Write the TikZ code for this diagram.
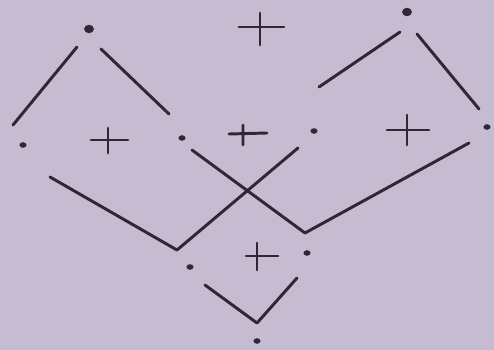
\documentclass[tikz,border=0pt]{standalone}
\usetikzlibrary{shapes.geometric}
\definecolor{paper}{RGB}{197,188,210}
\definecolor{ink}{RGB}{48,38,58}
\begin{document}
\begin{tikzpicture}[x=0.05cm,y=-0.05cm,
  stroke/.style={draw=ink,line width=4.2pt,line cap=round,line join=round},
  plusstroke/.style={draw=ink,line width=4.2pt,line cap=round},
  bigdot/.style={ellipse,fill=ink,inner sep=0pt,minimum width=14pt,minimum height=12pt},
  smalldot/.style={ellipse,fill=ink,inner sep=0pt,minimum width=10pt,minimum height=8pt}]
\fill[paper] (0,0) rectangle (494,350);
\useasboundingbox (0,0) rectangle (494,350);
% dots
\node[bigdot] (tl) at (89,29) {};
\node[bigdot] (tr) at (407,12) {};
\node[smalldot] (l) at (23,145) {};
\node[smalldot] (ml) at (182,138) {};
\node[smalldot] (mr) at (314,131) {};
\node[smalldot] (r) at (487,127) {};
\node[smalldot] (ll) at (190,267) {};
\node[smalldot] (lr) at (307,253) {};
\node[smalldot] (b) at (257,341) {};
% line ends
\coordinate (a1) at (77,47);  \coordinate (a2) at (13,125);
\coordinate (b1) at (101,49); \coordinate (b2) at (169,114);
\coordinate (c1) at (400,32); \coordinate (c2) at (319,87);
\coordinate (d1) at (417,34); \coordinate (d2) at (479,109);
\coordinate (e1) at (50,177);
\coordinate (f1) at (298,148);
\coordinate (vL) at (177,250);
\coordinate (g1) at (192,150);
\coordinate (h1) at (469,143);
\coordinate (vR) at (305,233);
\coordinate (i1) at (205,285);
\coordinate (j1) at (297,278);
\coordinate (vB) at (257,323);
% connectors
\draw[stroke] (a1) -- (a2);
\draw[stroke] (b1) -- (b2);
\draw[stroke] (c1) -- (c2);
\draw[stroke] (d1) -- (d2);
\draw[stroke] (e1) -- (vL) -- (f1);
\draw[stroke] (g1) -- (vR) -- (h1);
\draw[stroke] (i1) -- (vB) -- (j1);
% plus signs
\draw[plusstroke] (239,27) -- (284,27) (260,13) -- (260,45);
\draw[plusstroke] (91,140) -- (128,140) (108,128) -- (108,153);
\draw[plusstroke] (229,134) -- (267,133) (243,125) -- (243,145);
\draw[plusstroke] (387,130) -- (429,130) (407,115) -- (407,145);
\draw[plusstroke] (246,256) -- (278,256) (257,243) -- (257,270);
\end{tikzpicture}
\end{document}
